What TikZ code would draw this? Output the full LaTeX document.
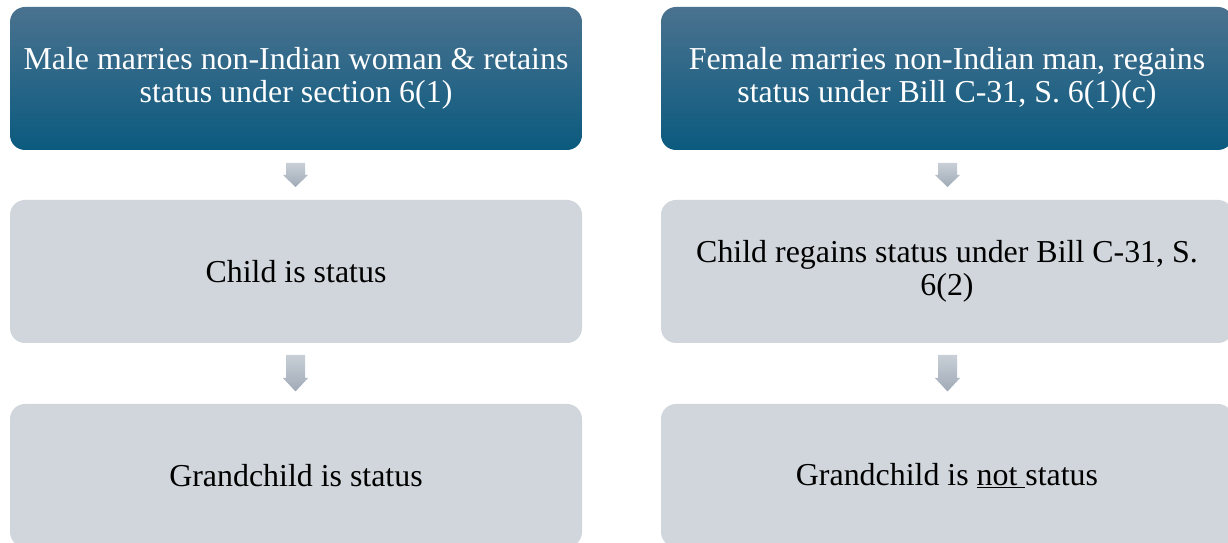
\documentclass[tikz,border=0pt]{standalone}
\usepackage{fontspec}
\setmainfont{Liberation Serif}
\definecolor{headtop}{RGB}{74,114,143}
\definecolor{headbot}{RGB}{11,90,127}
\definecolor{boxgray}{RGB}{208,214,219}
\definecolor{arrtop}{RGB}{200,207,214}
\definecolor{arrbot}{RGB}{160,171,183}
% down-pointing block arrow: #1 centre x, #2 top y, #3 y where the head starts, #4 tip y
\newcommand\blockdown[4]{%
  \path[arrowshade] (#1-9.5,#2) -- (#1+9.5,#2) -- (#1+9.5,#3) -- (#1+12.5,#3)
    -- (#1,#4) -- (#1-12.5,#3) -- (#1-9.5,#3) -- cycle;}
\tikzset{
  box/.style={rectangle, rounded corners=15pt, minimum width=572pt, minimum height=143pt,
    align=center, inner sep=0pt, font=\fontsize{31.9}{33}\selectfont},
  headbox/.style={box, top color=headtop, bottom color=headbot, text=white},
  stepbox/.style={box, fill=boxgray, text=black},
  arrowshade/.style={top color=arrtop, bottom color=arrbot}
}
\begin{document}
\begin{tikzpicture}[x=1pt,y=1pt]
\useasboundingbox (0,0) rectangle (1228,543);
\clip (0,0) rectangle (1228,543);
\fill[white] (0,0) rectangle (1228,543);

% left column
\node[headbox] (l1) at (296,464.5) {Male marries non-Indian woman \& retains\\status under section 6(1)};
\node[stepbox] (l2) at (296,271.5) {Child is status};
\node[stepbox] (l3) at (296,67.5) {Grandchild is status};

% right column
\node[headbox] (r1) at (947,464.5) {Female marries non-Indian man, regains\\status under Bill C-31, S. 6(1)(c)};
\node[stepbox] (r2) at (947,271.5) {Child regains status under Bill C-31, S.\\6(2)};
\node[stepbox] (r3) at (947,67.5) {Grandchild is \underline{not\ }status};

% arrows between the steps
\blockdown{295.5}{380}{368}{356}
\blockdown{295.5}{188}{165}{151.5}
\blockdown{947.5}{380}{368}{356}
\blockdown{947.5}{188}{165}{151.5}
\end{tikzpicture}
\end{document}
